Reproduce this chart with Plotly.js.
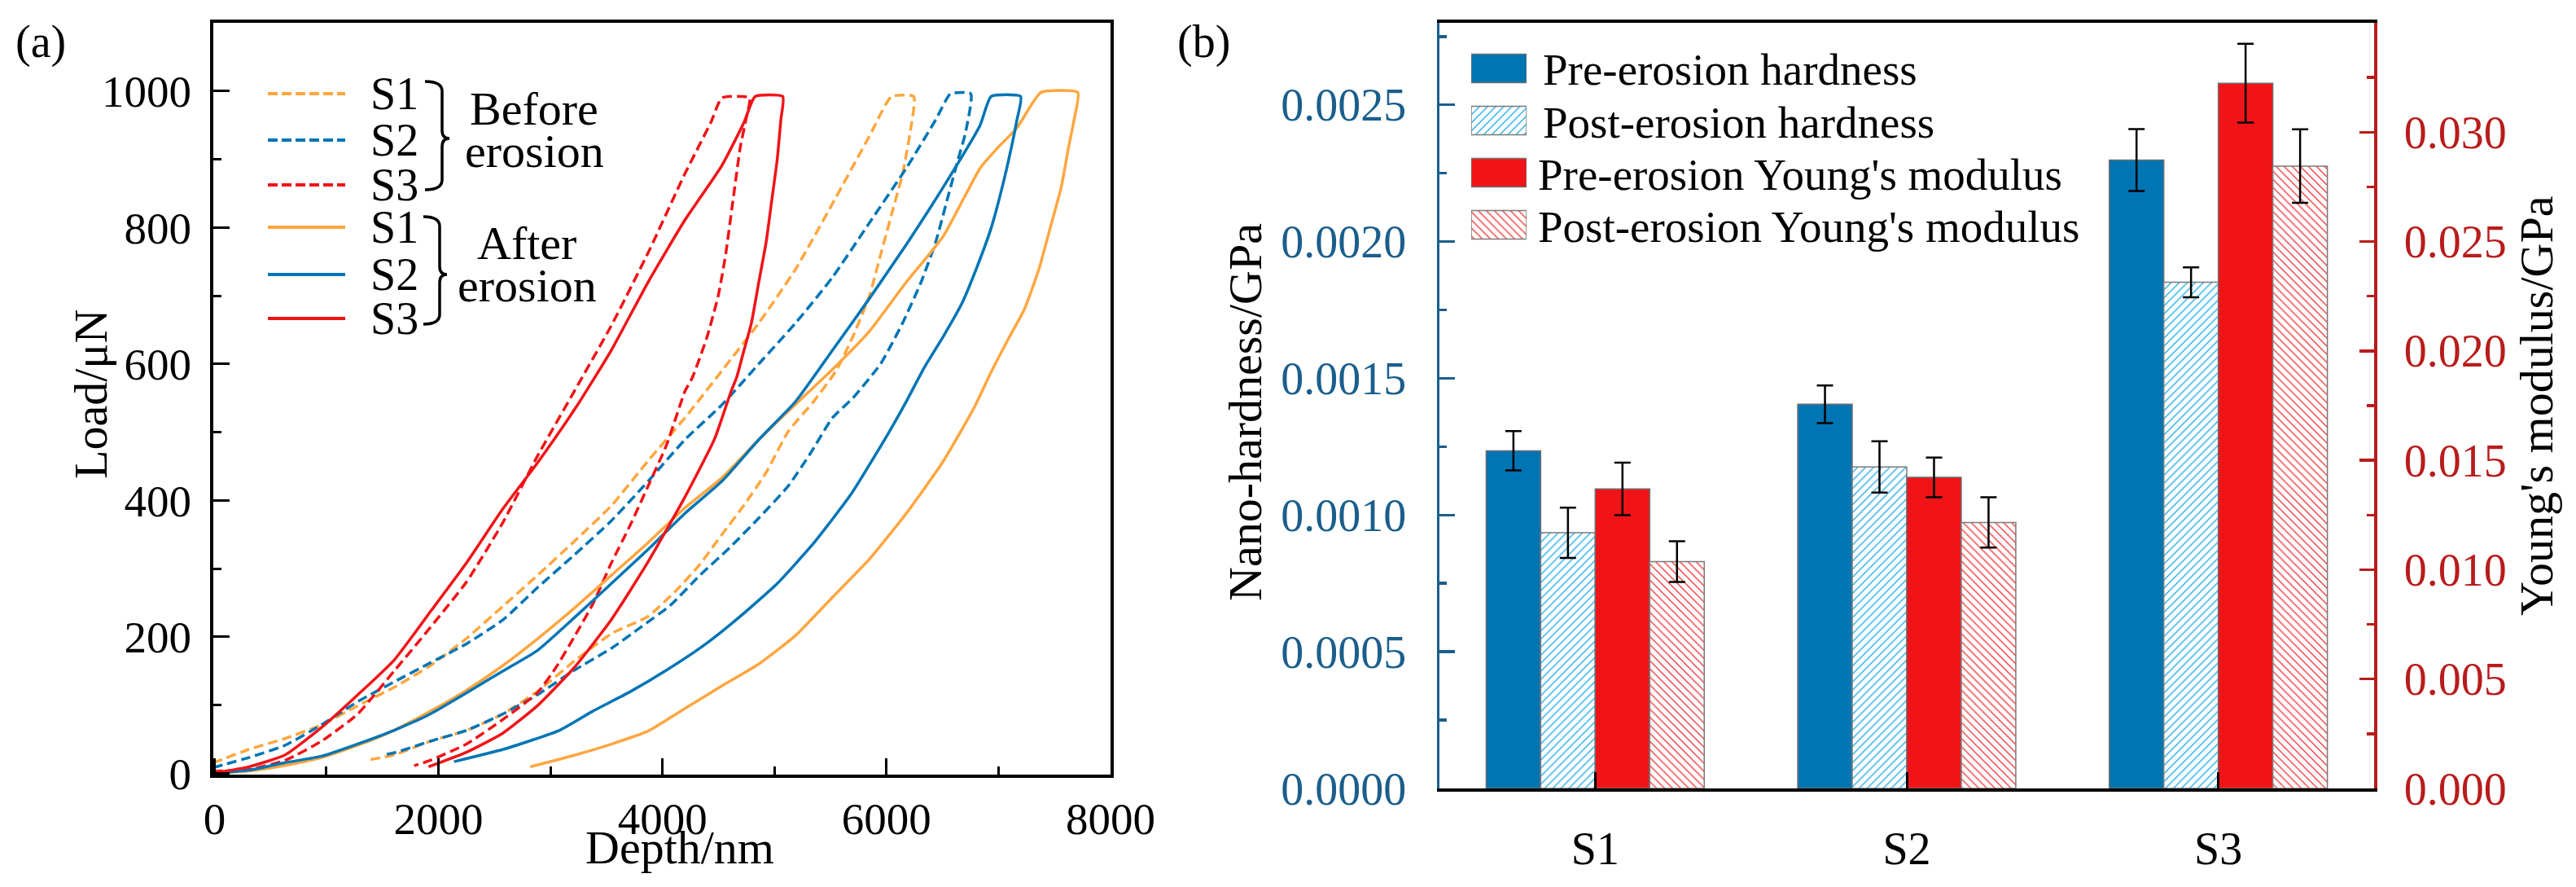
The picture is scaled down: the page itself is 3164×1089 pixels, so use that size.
<!DOCTYPE html>
<html>
<head>
<meta charset="utf-8">
<script src="https://cdn.plot.ly/plotly-3.0.1.min.js"></script>
<style>
    html, body { margin: 0; padding: 0; background: #ffffff; }
    #plot { width: 3164px; height: 1089px; }
</style>
</head>
<body>
<div id="plot"></div>
<script>
// ---- panel (a): load / depth curves (loading, hold, unloading) ----
let s1BeforeDepth = [-15, 308, 632, 956, 1280, 1605, 1929, 2253, 2577, 2884, 3213, 3543, 3872, 4201, 4531, 4860, 5189, 5518, 5848, 6045,
    6243, 6210, 6144, 6045, 5946, 5848, 5700, 5550, 5350, 5123, 4926, 4728, 4531, 4333, 4135, 3872, 3549, 3225, 2901, 2577, 2253, 1929, 1605, 1361];
let s1BeforeLoad = [15, 35, 51, 71, 99, 126, 158, 198, 245, 290, 340, 392, 458, 521, 590, 660, 739, 835, 934, 992,
    992, 938, 879, 819, 759, 700, 640, 590, 545, 501, 441, 393, 350, 306, 270, 230, 205, 166, 122, 87, 63, 47, 27, 19];

let s2BeforeDepth = [-15, 308, 632, 956, 1280, 1605, 1929, 2253, 2577, 2884, 3213, 3543, 3872, 4201, 4531, 4860, 5189, 5518, 5848, 6177, 6440, 6572,
    6753, 6704, 6638, 6539, 6440, 6309, 6144, 5947, 5700, 5518, 5321, 5123, 4860, 4596, 4333, 4069, 3806, 3543, 3213, 2884, 2577, 2253, 1929, 1605, 1500];
let s2BeforeLoad = [8, 23, 41, 71, 105, 134, 162, 190, 225, 272, 320, 370, 428, 489, 540, 600, 660, 727, 807, 887, 958, 996,
    996, 938, 899, 839, 779, 720, 660, 600, 550, 521, 469, 421, 374, 330, 290, 246, 214, 183, 151, 115, 87, 63, 47, 30, 27];

let s3BeforeDepth = [-15, 308, 632, 956, 1280, 1605, 1929, 2253, 2577, 2884, 3213, 3543, 3872, 4201, 4432, 4531,
    4777, 4745, 4695, 4629, 4563, 4498, 4399, 4267, 4201, 4036, 3872, 3707, 3543, 3378, 3213, 3049, 2884, 2577, 2253, 1929, 1783];
let s3BeforeLoad = [3, 5.5, 19, 47, 87, 150, 214, 281, 368, 465, 560, 656, 763, 879, 954, 990,
    990, 958, 918, 839, 759, 700, 640, 580, 560, 481, 421, 362, 308, 248, 200, 155, 118, 79, 43, 19, 11];

let s1AfterDepth = [-15, 308, 632, 956, 1280, 1605, 1929, 2253, 2577, 2884, 3213, 3543, 3872, 4201, 4531, 4860, 5189, 5518, 5848, 6177, 6506, 6836, 7000, 7165, 7379,
    7708, 7675, 7626, 7560, 7461, 7363, 7231, 7099, 6934, 6786, 6506, 6177, 5848, 5518, 5189, 4860, 4531, 4201, 3874, 3549, 3225, 2820];
let s1AfterLoad = [0, 3.5, 11.5, 23, 41, 63, 91, 122, 158, 197, 242, 290, 338, 389, 433, 489, 541, 592, 648, 720, 787, 887, 918, 946, 998,
    998, 958, 918, 859, 799, 740, 680, 640, 588, 537, 457, 381, 314, 258, 202, 160, 128, 95, 62, 43, 27, 9.5];

let s2AfterDepth = [-15, 308, 632, 956, 1280, 1605, 1929, 2253, 2577, 2884, 3213, 3543, 3872, 4201, 4531, 4860, 5189, 5518, 5848, 6177, 6506, 6836, 6934,
    7198, 7165, 7116, 7033, 6934, 6803, 6671, 6506, 6342, 6177, 6012, 5683, 5354, 5024, 4695, 4366, 4036, 3707, 3378, 3082, 2577, 2139];
let s2AfterLoad = [0, 4.4, 15.5, 25, 43, 63, 87, 118, 150, 180, 228, 278, 328, 381, 428, 489, 545, 620, 696, 775, 859, 950, 992,
    992, 958, 918, 859, 799, 740, 688, 640, 596, 545, 497, 409, 338, 278, 230, 187, 151, 119, 91, 63, 35, 17];

let s3AfterDepth = [-15, 308, 632, 956, 1280, 1605, 1929, 2253, 2577, 2884, 3230, 3543, 3872, 4201, 4531, 4728, 4827,
    5074, 5057, 5024, 4975, 4926, 4860, 4794, 4728, 4662, 4613, 4465, 4201, 3872, 3543, 3213, 2884, 2577, 2253, 1912];
let s3AfterLoad = [0, 9.5, 27, 67, 115, 166, 237, 309, 388, 455, 537, 620, 720, 811, 891, 954, 992,
    992, 958, 899, 839, 779, 720, 660, 620, 580, 560, 490, 405, 310, 225, 155, 99, 59, 31, 9.5];

let depthTicks = [0, 2000, 4000, 6000, 8000];
let loadTicks = [0, 200, 400, 600, 800, 1000];

// ---- panel (b): hardness and modulus bars ----
let samples = ['S1', 'S2', 'S3'];
let hardPre = [0.001235, 0.001405, 0.002298];
let hardPreErr = [0.000072, 0.000069, 0.000113];
let hardPost = [0.000935, 0.001176, 0.001851];
let hardPostErr = [0.000092, 0.000094, 0.000055];
let modPre = [0.01369, 0.01422, 0.03224];
let modPreErr = [0.0012, 0.00091, 0.0018];
let modPost = [0.01037, 0.01216, 0.02845];
let modPostErr = [0.00093, 0.00115, 0.00168];
let barNames = ['Pre-erosion hardness', 'Post-erosion hardness', "Pre-erosion Young's modulus", "Post-erosion Young's modulus"];

const W = 3164, H = 1089;
const FONT = '"Liberation Serif", "Times New Roman", Times, serif';
const ORANGE = '#FFA640', BLUE = '#0075B4', RED = '#F01418';
const AXBLUE = '#1B5E8C', AXRED = '#B81C1C';

// pixel -> paper helpers (margins are zero, so paper == whole figure)
function fx(p) { return p / W; }
function fy(p) { return 1 - p / H; }

function curve(x, y, colour, dashed) {
    return {
        x: x, y: y, xaxis: 'x', yaxis: 'y',
        type: 'scatter', mode: 'lines',
        line: {color: colour, width: 3.5, dash: dashed ? '12px,6px' : 'solid', shape: 'spline', smoothing: 0.5},
        hoverinfo: 'skip'
    };
}

let markers = [
    {color: BLUE, line: {color: '#6f6f6f', width: 1.5}},
    {color: 'white', line: {color: '#7a7a7a', width: 1.5},
        pattern: {shape: '/', fgcolor: '#22ACE8', bgcolor: 'white', size: 7, solidity: 0.2, fillmode: 'replace'}},
    {color: RED, line: {color: '#6f6f6f', width: 1.5}},
    {color: 'white', line: {color: '#7a7a7a', width: 1.5},
        pattern: {shape: '\\', fgcolor: '#F23A3A', bgcolor: 'white', size: 7, solidity: 0.2, fillmode: 'replace'}}
];

function bars(vals, errs, k, yaxis) {
    return {
        type: 'bar', x: samples, y: vals, xaxis: 'x2', yaxis: yaxis,
        name: barNames[k], width: 0.175, offset: -0.35 + k * 0.175,
        marker: markers[k],
        error_y: {type: 'data', array: errs, visible: true, color: 'black', thickness: 2.5, width: 10}
    };
}

let data = [
    curve(s1BeforeDepth, s1BeforeLoad, ORANGE, true),
    curve(s2BeforeDepth, s2BeforeLoad, BLUE, true),
    curve(s3BeforeDepth, s3BeforeLoad, RED, true),
    curve(s1AfterDepth, s1AfterLoad, ORANGE, false),
    curve(s2AfterDepth, s2AfterLoad, BLUE, false),
    curve(s3AfterDepth, s3AfterLoad, RED, false),
    bars(hardPre, hardPreErr, 0, 'y2'),
    bars(hardPost, hardPostErr, 1, 'y2'),
    bars(modPre, modPreErr, 2, 'y3'),
    bars(modPost, modPostErr, 3, 'y3')
];

// legend swatches for (b), drawn as bars on a hidden little axis
barNames.forEach((nm, i) => {
    data.push({
        type: 'bar', orientation: 'h', x: [1], y: [i], base: 0, width: 0.55,
        xaxis: 'x4', yaxis: 'y4', marker: markers[i], hoverinfo: 'skip'
    });
});

let shapes = [];
let annotations = [];

function txt(s, x, y, size, opts) {
    let a = {
        text: s, x: fx(x), y: fy(y), xref: 'paper', yref: 'paper',
        showarrow: false, xanchor: 'center', yanchor: 'middle', borderpad: 0,
        font: {family: FONT, size: size, color: 'black'}
    };
    return Object.assign(a, opts || {});
}

// legend of (a)
let legRows = [
    [115, ORANGE, true, 'S1'], [172, BLUE, true, 'S2'], [227, RED, true, 'S3'],
    [279, ORANGE, false, 'S1'], [337, BLUE, false, 'S2'], [391, RED, false, 'S3']
];
legRows.forEach(r => {
    shapes.push({
        type: 'line', xref: 'paper', yref: 'paper',
        x0: fx(329), x1: fx(424), y0: fy(r[0]), y1: fy(r[0]),
        line: {color: r[1], width: 4, dash: r[2] ? '12px,5px' : 'solid'}
    });
    annotations.push(txt(r[3], 484, r[0], 56));
});

function brace(top, bot, mid, x0, x1, xp) {
    let p = (x, y) => fx(x) + ',' + fy(y);
    return {
        type: 'path', xref: 'paper', yref: 'paper',
        line: {color: 'black', width: 3.5},
        path: 'M' + p(x0, top) + ' Q' + p(x1, top) + ' ' + p(x1, top + 12) +
            ' L' + p(x1, mid - 10) + ' Q' + p(x1, mid) + ' ' + p(xp, mid) +
            ' Q' + p(x1, mid) + ' ' + p(x1, mid + 10) +
            ' L' + p(x1, bot - 12) + ' Q' + p(x1, bot) + ' ' + p(x0, bot)
    };
}
shapes.push(brace(100, 233, 170, 522, 543, 552));
shapes.push(brace(266, 398, 337, 520, 540, 549));

annotations.push(txt('Before', 656, 134, 58));
annotations.push(txt('erosion', 656, 186, 58));
annotations.push(txt('After', 647, 298, 58));
annotations.push(txt('erosion', 647, 350, 58));

// legend text of (b)
let legY = [86, 150, 214, 278];
barNames.forEach((nm, i) => {
    annotations.push(txt(nm, i < 2 ? 1894 : 1888, legY[i], 55, {xanchor: 'left'}));
});

// titles and panel letters
annotations.push(txt('(a)', 50, 51, 56));
annotations.push(txt('(b)', 1478, 51, 56));
annotations.push(txt('Depth/nm', 835, 1040, 58));
annotations.push(txt('Load/μN', 111, 484, 58, {textangle: -90}));
annotations.push(txt('Nano-hardness/GPa', 1529, 506, 58, {textangle: -90}));
annotations.push(txt("Young's modulus/GPa", 3115, 499, 58, {textangle: -90}));

let tickFont = {family: FONT, size: 55, color: 'black'};

var layout = {
    width: W,
    height: H,
    margin: {l: 0, r: 0, t: 0, b: 0, pad: 0},
    paper_bgcolor: 'white',
    plot_bgcolor: 'rgba(0,0,0,0)',
    showlegend: false,
    font: {family: FONT, color: 'black'},
    xaxis: {
        domain: [fx(262), fx(1364)], anchor: 'y',
        range: [-10, 8000], tickvals: depthTicks,
        showline: true, mirror: true, linecolor: 'black', linewidth: 4,
        ticks: 'inside', ticklen: 20, tickwidth: 3, tickcolor: 'black',
        minor: {dtick: 1000, ticks: 'inside', ticklen: 10, tickwidth: 3, tickcolor: 'black'},
        showgrid: false, zeroline: false,
        tickfont: tickFont, ticklabelstandoff: 3
    },
    yaxis: {
        domain: [fy(951), fy(28)], anchor: 'x',
        range: [-2, 1100], tickvals: loadTicks,
        showline: true, mirror: true, linecolor: 'black', linewidth: 4,
        ticks: 'inside', ticklen: 20, tickwidth: 3, tickcolor: 'black',
        minor: {dtick: 100, ticks: 'inside', ticklen: 10, tickwidth: 3, tickcolor: 'black'},
        showgrid: false, zeroline: false,
        tickfont: tickFont, ticklabelstandoff: 12
    },
    xaxis2: {
        domain: [fx(1768), fx(2916)], anchor: 'y2',
        type: 'category', range: [-0.5, 2.5],
        showline: true, mirror: true, linecolor: 'black', linewidth: 4,
        ticks: 'inside', ticklen: 20, tickwidth: 3, tickcolor: 'black',
        showgrid: false, zeroline: false,
        tickfont: {family: FONT, size: 56, color: 'black'}, ticklabelstandoff: 22
    },
    yaxis2: {
        domain: [fy(968), fy(28)], anchor: 'x2',
        range: [0, 0.0028], dtick: 0.0005, tickformat: '.4f',
        showline: true, linecolor: AXBLUE, linewidth: 3.5,
        ticks: 'inside', ticklen: 19, tickwidth: 3.5, tickcolor: AXBLUE,
        minor: {dtick: 0.00025, ticks: 'inside', ticklen: 9, tickwidth: 3.5, tickcolor: AXBLUE},
        showgrid: false, zeroline: false,
        tickfont: {family: FONT, size: 56, color: AXBLUE}, ticklabelstandoff: 26
    },
    yaxis3: {
        overlaying: 'y2', side: 'right', anchor: 'x2',
        range: [0, 0.035], dtick: 0.005, tickformat: '.3f',
        showline: true, linecolor: AXRED, linewidth: 3.5,
        ticks: 'inside', ticklen: 18, tickwidth: 3.5, tickcolor: AXRED,
        minor: {dtick: 0.0025, ticks: 'inside', ticklen: 9, tickwidth: 3.5, tickcolor: AXRED},
        showgrid: false, zeroline: false,
        tickfont: {family: FONT, size: 56, color: AXRED}, ticklabelstandoff: 22
    },
    xaxis4: {domain: [fx(1807), fx(1875)], anchor: 'y4', range: [0, 1], visible: false, fixedrange: true},
    yaxis4: {domain: [fy(308), fy(52)], anchor: 'x4', range: [3.5, -0.5], visible: false, fixedrange: true},
    barmode: 'overlay',
    shapes: shapes,
    annotations: annotations
};

Plotly.newPlot('plot', data, layout, {displayModeBar: false, staticPlot: true});
</script>
</body>
</html>
